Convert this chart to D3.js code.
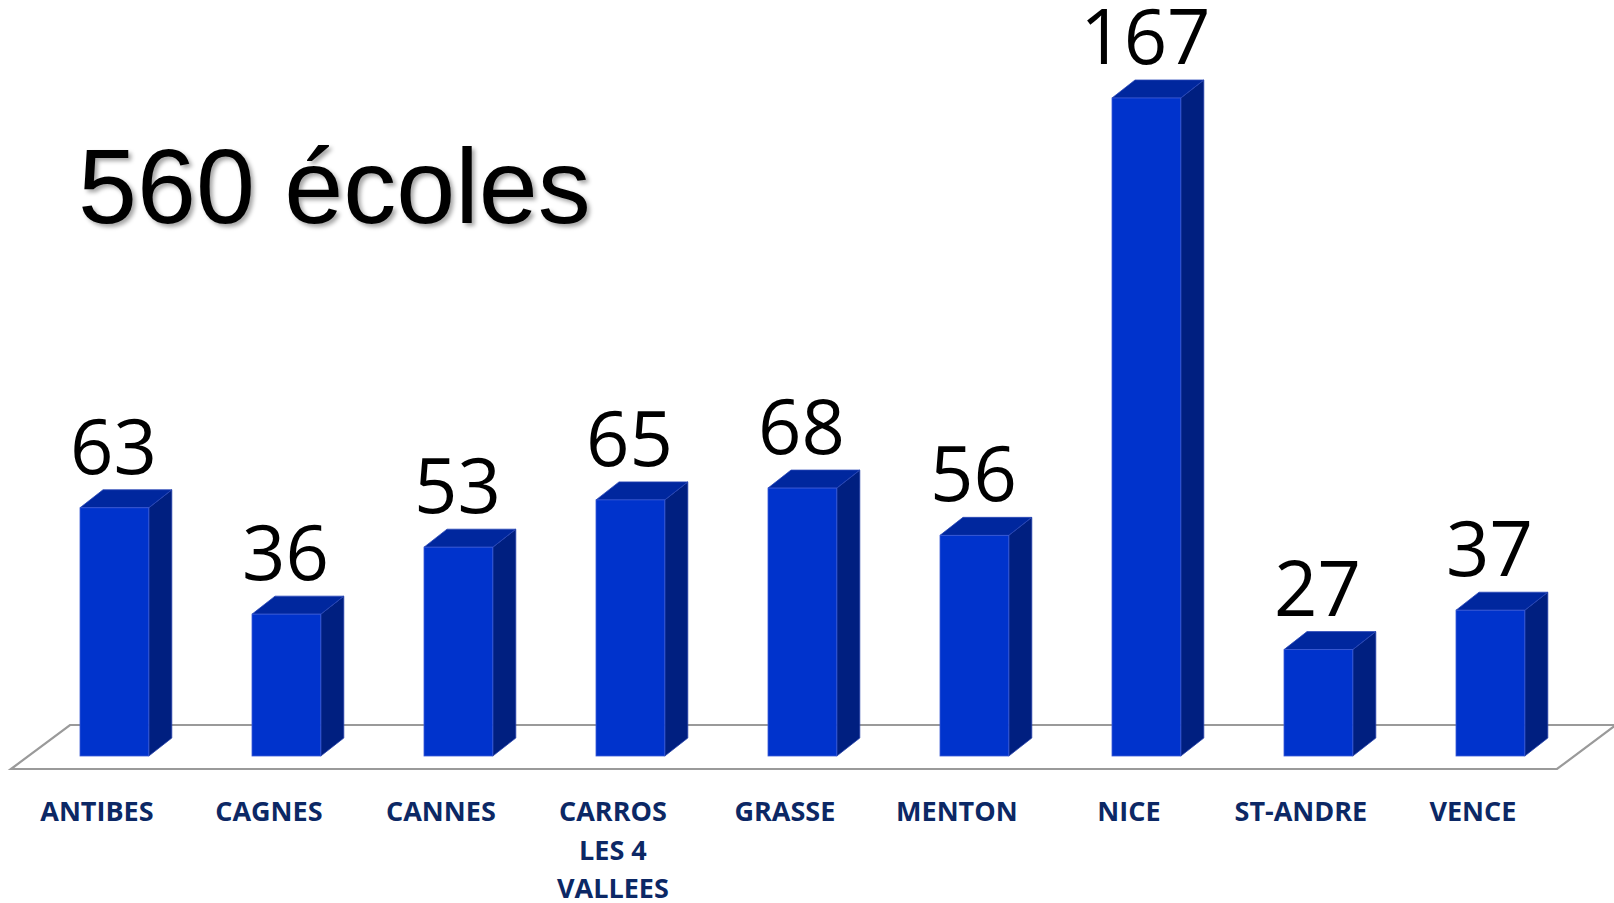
<!DOCTYPE html>
<html>
<head>
<meta charset="utf-8">
<script src="https://cdn.jsdelivr.net/npm/d3@7"></script>
<style>
  html, body { margin: 0; padding: 0; background: #fff; }
  svg { display: block; }
</style>
</head>
<body>
<svg id="chart"></svg>
<script>
// 3d-ish column chart, schools per district

var categories = ["ANTIBES", "CAGNES", "CANNES", "CARROS\nLES 4\nVALLEES", "GRASSE", "MENTON", "NICE", "ST-ANDRE", "VENCE"]
var values = [63, 36, 53, 65, 68, 56, 167, 27, 37]
var title = "560 écoles"

var width = 1614
var height = 903
var depth = {dx: 23, dy: -18}
var floor = {y: 769, back: 725, x0: 11, x1: 1557, dx: 59}

var svg = d3.select("#chart")
    .attr("width", width)
    .attr("height", height)

var defs = svg.append("defs")
var shadow = defs.append("filter")
    .attr("id", "shadow")
    .attr("x", "-5%").attr("y", "-5%")
    .attr("width", "115%").attr("height", "130%")
shadow.append("feDropShadow")
    .attr("dx", 3).attr("dy", 3)
    .attr("stdDeviation", 2)
    .attr("flood-color", "#000")
    .attr("flood-opacity", 0.35)

var x = d3.scaleBand()
    .domain(categories)
    .range([28.4, 1576.4])
    .paddingInner(0.6)
    .paddingOuter(0.3)

var y = d3.scaleLinear()
    .domain([0, 167])
    .range([756, 98])

// floor
svg.append("path")
    .attr("d", "M" + floor.x0 + "," + floor.y +
               "L" + floor.x1 + "," + floor.y +
               "L" + (floor.x1 + floor.dx) + "," + floor.back +
               "L" + (floor.x0 + floor.dx) + "," + floor.back + "Z")
    .attr("fill", "#fff")
    .attr("stroke", "#9a9a9a")
    .attr("stroke-width", 2.2)

var bars = svg.append("g").selectAll("g")
    .data(values)
    .join("g")

bars.append("path")  // side
    .attr("d", function(d, i) {
        var x1 = x(categories[i]) + x.bandwidth()
        return "M" + x1 + "," + y(0) + "L" + x1 + "," + y(d) +
               "l" + depth.dx + "," + depth.dy +
               "L" + (x1 + depth.dx) + "," + (y(0) + depth.dy) + "Z"
    })
    .attr("fill", "#001f80")
    .attr("stroke", "#2440a8")
    .attr("stroke-width", 0.8)

bars.append("path")  // top
    .attr("d", function(d, i) {
        var x0 = x(categories[i])
        return "M" + x0 + "," + y(d) + "l" + x.bandwidth() + ",0" +
               "l" + depth.dx + "," + depth.dy +
               "l" + (-x.bandwidth()) + ",0Z"
    })
    .attr("fill", "#00279e")
    .attr("stroke", "#2a48b8")
    .attr("stroke-width", 0.8)

bars.append("rect")  // front
    .attr("x", function(d, i) { return x(categories[i]) })
    .attr("y", function(d) { return y(d) })
    .attr("width", x.bandwidth())
    .attr("height", function(d) { return y(0) - y(d) })
    .attr("fill", "#0033cc")
    .attr("stroke", "#3a5ad6")
    .attr("stroke-width", 0.8)

bars.append("text")
    .attr("x", function(d, i) { return x(categories[i]) + x.bandwidth() / 2 - 1 })
    .attr("y", function(d) { return y(d) + depth.dy - 16 })
    .attr("text-anchor", "middle")
    .attr("font-family", "'Open Sans', sans-serif")
    .attr("font-size", 76)
    .attr("fill", "#000")
    .text(function(d) { return d })

// category labels
var labels = svg.append("g").selectAll("text")
    .data(categories)
    .join("text")
    .attr("x", function(d) { return x(d) + x.bandwidth() / 2 - 17.5 })
    .attr("y", 821)
    .attr("text-anchor", "middle")
    .attr("font-family", "'Open Sans', sans-serif")
    .attr("font-weight", "bold")
    .attr("font-size", 27)
    .attr("fill", "#0c2865")

labels.selectAll("tspan")
    .data(function(d) { return d.split("\n").map(function(s) { return {s: s, c: d} }) })
    .join("tspan")
    .attr("x", function(t) { return x(t.c) + x.bandwidth() / 2 - 17.5 })
    .attr("dy", function(t, i) { return i ? 38.5 : 0 })
    .text(function(t) { return t.s })

svg.append("text")
    .attr("x", 78)
    .attr("y", 223)
    .attr("font-family", "'Liberation Sans', Arial, sans-serif")
    .attr("font-size", 106)
    .attr("fill", "#000")
    .attr("filter", "url(#shadow)")
    .text(title)
</script>
</body>
</html>
